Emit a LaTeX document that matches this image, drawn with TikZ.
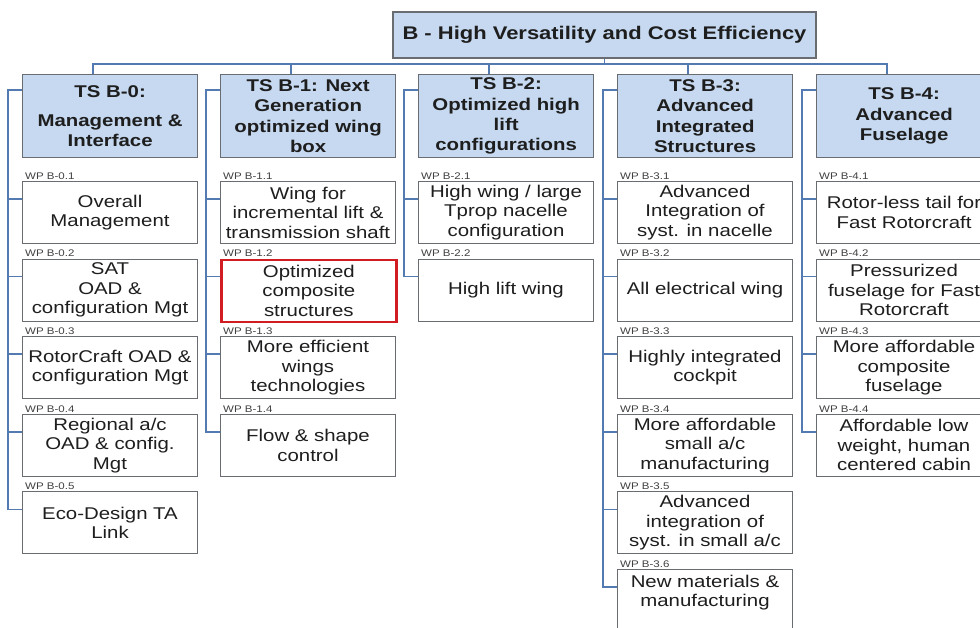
\documentclass[tikz,border=0pt]{standalone}
\usepackage{fontspec}
\setmainfont{Liberation Sans}[FakeStretch=1.2]
\usetikzlibrary{calc}

\definecolor{tsblue}{RGB}{198,217,240}
\definecolor{linkblue}{RGB}{84,122,178}
\definecolor{frame}{RGB}{105,108,112}
\definecolor{wpred}{RGB}{210,28,36}
\definecolor{ink}{RGB}{30,30,30}

\tikzset{
  topbox/.style={draw=frame,line width=1.3pt,fill=tsblue,
    minimum width=423pt,minimum height=46pt,text=ink,
    font=\fontsize{18.3}{20}\selectfont\bfseries},
  tsbox/.style={draw=frame,line width=1.3pt,fill=tsblue,anchor=north west,
    minimum width=175pt,minimum height=83pt,align=center,inner sep=1pt,
    text=ink,font=\fontsize{17}{20.3}\selectfont\bfseries},
  wpbox/.style={draw=frame,line width=1pt,fill=white,anchor=north west,
    minimum width=175pt,minimum height=62pt,align=center,inner sep=1pt,
    text=ink,font=\fontsize{17}{19.5}\selectfont},
  hotbox/.style={wpbox,draw=wpred,line width=2.6pt},
  wplabel/.style={anchor=south west,inner sep=0pt,xshift=3pt,yshift=1.5pt,
    text=ink!85,font=\fontsize{9.6}{10}\selectfont},
  link/.style={draw=linkblue,line width=1.8pt},
}

\begin{document}
\begin{tikzpicture}[x=1pt,y=-1pt]
  \useasboundingbox (0,0) rectangle (980,628);
  \clip (0,0) rectangle (980,628);
  \fill[white] (0,0) rectangle (980,628);

  % headline and the five TS boxes
  \node[topbox] (top) at (604.5,35) {B - High Versatility and Cost Efficiency};
  \node[tsbox] (ts0) at (22,74) {TS B-0:\\[9pt]Management \&\\Interface};
  \node[tsbox] (ts1) at (220,74) {TS B-1: Next\\Generation\\optimized wing\\box};
  \node[tsbox] (ts2) at (418,74) {TS B-2:\\Optimized high\\lift\\configurations};
  \node[tsbox] (ts3) at (617,74) {TS B-3:\\Advanced\\Integrated\\Structures};
  \node[tsbox] (ts4) at (816,74) {TS B-4:\\Advanced\\Fuselage};

  \coordinate (bus) at (604.5,64);
  \draw[link] (top.south) -- (bus);
  \draw[link] ($(ts0.north)+(-17,0)$) |- (bus);
  \draw[link] ($(ts1.north)+(-17,0)$) |- (bus);
  \draw[link] ($(ts2.north)+(-17,0)$) |- (bus);
  \draw[link] ($(ts3.north)+(-17,0)$) |- (bus);
  \draw[link] ($(ts4.north)+(-17,0)$) |- (bus);

  % B-0
  \node[wpbox,label={[wplabel]north west:WP B-0.1}] (wp01) at (22,181) {Overall\\Management};
  \node[wpbox,label={[wplabel]north west:WP B-0.2}] (wp02) at (22,258.6) {SAT\\OAD \&\\configuration Mgt};
  \node[wpbox,label={[wplabel]north west:WP B-0.3}] (wp03) at (22,336.2) {RotorCraft OAD \&\\configuration Mgt};
  \node[wpbox,label={[wplabel]north west:WP B-0.4}] (wp04) at (22,413.8) {Regional a/c\\OAD \& config.\\Mgt};
  \node[wpbox,label={[wplabel]north west:WP B-0.5}] (wp05) at (22,491.4) {Eco-Design TA\\Link};
  \draw[link] ($(ts0.north west)+(0,16)$) -- ++(-14,0) |- ($(wp05.north west)+(0,18)$);
  \draw[link] ($(wp01.north west)+(0,18)$) -- ++(-14,0);
  \draw[link] ($(wp02.north west)+(0,18)$) -- ++(-14,0);
  \draw[link] ($(wp03.north west)+(0,18)$) -- ++(-14,0);
  \draw[link] ($(wp04.north west)+(0,18)$) -- ++(-14,0);

  % B-1
  \node[wpbox,label={[wplabel]north west:WP B-1.1}] (wp11) at (220,181) {Wing for\\incremental lift \&\\transmission shaft};
  \node[hotbox,label={[wplabel]north west:WP B-1.2}] (wp12) at (220,258.6) {Optimized\\composite\\structures};
  \node[wpbox,label={[wplabel]north west:WP B-1.3}] (wp13) at (220,336.2) {More efficient\\wings\\technologies};
  \node[wpbox,label={[wplabel]north west:WP B-1.4}] (wp14) at (220,413.8) {Flow \& shape\\control};
  \draw[link] ($(ts1.north west)+(0,16)$) -- ++(-14,0) |- ($(wp14.north west)+(0,18)$);
  \draw[link] ($(wp11.north west)+(0,18)$) -- ++(-14,0);
  \draw[link] ($(wp12.north west)+(0,18)$) -- ++(-14,0);
  \draw[link] ($(wp13.north west)+(0,18)$) -- ++(-14,0);

  % B-2
  \node[wpbox,label={[wplabel]north west:WP B-2.1}] (wp21) at (418,181) {High wing / large\\Tprop nacelle\\configuration};
  \node[wpbox,label={[wplabel]north west:WP B-2.2}] (wp22) at (418,258.6) {High lift wing};
  \draw[link] ($(ts2.north west)+(0,16)$) -- ++(-14,0) |- ($(wp22.north west)+(0,18)$);
  \draw[link] ($(wp21.north west)+(0,18)$) -- ++(-14,0);

  % B-3
  \node[wpbox,label={[wplabel]north west:WP B-3.1}] (wp31) at (617,181) {Advanced\\Integration of\\syst. in nacelle};
  \node[wpbox,label={[wplabel]north west:WP B-3.2}] (wp32) at (617,258.6) {All electrical wing};
  \node[wpbox,label={[wplabel]north west:WP B-3.3}] (wp33) at (617,336.2) {Highly integrated\\cockpit};
  \node[wpbox,label={[wplabel]north west:WP B-3.4}] (wp34) at (617,413.8) {More affordable\\small a/c\\manufacturing};
  \node[wpbox,label={[wplabel]north west:WP B-3.5}] (wp35) at (617,491.4) {Advanced\\integration of\\syst. in small a/c};
  \node[wpbox,label={[wplabel]north west:WP B-3.6}] (wp36) at (617,569) {New materials \&\\manufacturing\\\mbox{}};
  \draw[link] ($(ts3.north west)+(0,16)$) -- ++(-14,0) |- ($(wp36.north west)+(0,18)$);
  \draw[link] ($(wp31.north west)+(0,18)$) -- ++(-14,0);
  \draw[link] ($(wp32.north west)+(0,18)$) -- ++(-14,0);
  \draw[link] ($(wp33.north west)+(0,18)$) -- ++(-14,0);
  \draw[link] ($(wp34.north west)+(0,18)$) -- ++(-14,0);
  \draw[link] ($(wp35.north west)+(0,18)$) -- ++(-14,0);

  % B-4
  \node[wpbox,label={[wplabel]north west:WP B-4.1}] (wp41) at (816,181) {Rotor-less tail for\\Fast Rotorcraft};
  \node[wpbox,label={[wplabel]north west:WP B-4.2}] (wp42) at (816,258.6) {Pressurized\\fuselage for Fast\\Rotorcraft};
  \node[wpbox,label={[wplabel]north west:WP B-4.3}] (wp43) at (816,336.2) {More affordable\\composite\\fuselage};
  \node[wpbox,label={[wplabel]north west:WP B-4.4}] (wp44) at (816,413.8) {Affordable low\\weight, human\\centered cabin};
  \draw[link] ($(ts4.north west)+(0,16)$) -- ++(-14,0) |- ($(wp44.north west)+(0,18)$);
  \draw[link] ($(wp41.north west)+(0,18)$) -- ++(-14,0);
  \draw[link] ($(wp42.north west)+(0,18)$) -- ++(-14,0);
  \draw[link] ($(wp43.north west)+(0,18)$) -- ++(-14,0);
\end{tikzpicture}
\end{document}
